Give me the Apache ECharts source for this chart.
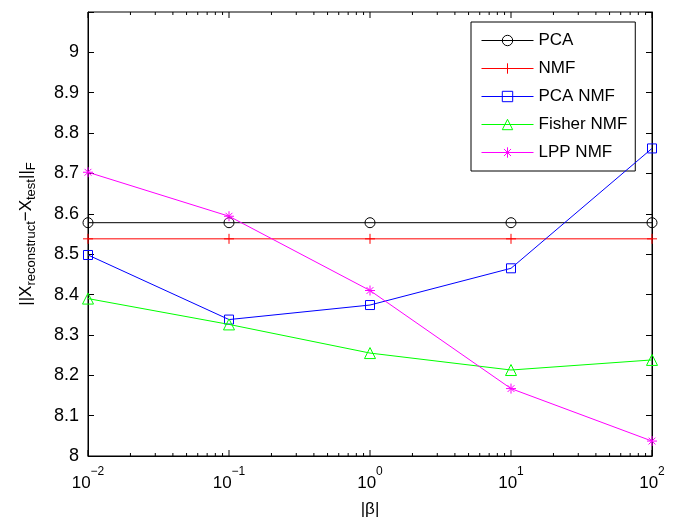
<!DOCTYPE html>
<html>
<head>
<meta charset="utf-8">
<script src="https://cdn.jsdelivr.net/npm/echarts@6/dist/echarts.min.js"></script>
<style>html,body{margin:0;padding:0;background:#fff}#c{width:676px;height:518px}</style>
</head>
<body>
<div id="c"></div>
<script>
// ---- data ----
const betas = [0.01, 0.1, 1, 10, 100];
const seriesNames = ['PCA', 'NMF', 'PCA NMF', 'Fisher NMF', 'LPP NMF'];
const pcaVals = [8.578, 8.578, 8.578, 8.578, 8.578];
const nmfVals = [8.538, 8.538, 8.538, 8.538, 8.538];
const pcaNmfVals = [8.498, 8.338, 8.374, 8.465, 8.762];
const fisherNmfVals = [8.390, 8.326, 8.255, 8.213, 8.238];
const lppNmfVals = [8.703, 8.594, 8.410, 8.167, 8.037];
const xMajorTicks = [0.01, 0.1, 1, 10, 100];
const xMinorTicks = [0.02,0.03,0.04,0.05,0.06,0.07,0.08,0.09,
                     0.2,0.3,0.4,0.5,0.6,0.7,0.8,0.9,
                     2,3,4,5,6,7,8,9,
                     20,30,40,50,60,70,80,90];
const yMin = 8, yMax = 9.1, yStep = 0.1, yLastLabel = 9;

const FONT = 'Liberation Sans, Arial, Helvetica, sans-serif';
const colors = ['#000000', '#ff0000', '#0000ff', '#00ff00', '#ff00ff'];
const symbols = [
  'circle',
  'path://M5,0L5,10M0,5L10,5',
  'rect',
  'triangle',
  'path://M5,0L5,10M0,5L10,5M1.6,1.6L8.4,8.4M1.6,8.4L8.4,1.6'
];
const sizes = [10, 10, 9, 11, 10];
const allVals = [pcaVals, nmfVals, pcaNmfVals, fisherNmfVals, lppNmfVals];

const chart = echarts.init(document.getElementById('c'), null, {renderer: 'canvas'});

const series = seriesNames.map((name, i) => ({
  name: name,
  type: 'line',
  xAxisIndex: 0,
  yAxisIndex: 0,
  data: betas.map((b, j) => [b, allVals[i][j]]),
  symbol: symbols[i],
  symbolSize: sizes[i],
  showSymbol: true,
  lineStyle: {color: colors[i], width: 1},
  itemStyle: {color: 'none', borderColor: colors[i], borderWidth: 1},
  emphasis: {disabled: true},
  animation: false,
  z: 2 + i
}));

// tick marks of the log axis (inside, bottom and mirrored top), placed through the axis scale
function tickSeries(vals, yv, len, dir) {
  return {
    type: 'scatter', name: 'tick', silent: true, clip: false, z: 20,
    xAxisIndex: 0, yAxisIndex: 0,
    data: vals.map(v => [v, yv]),
    symbol: 'rect', symbolSize: [1, len], symbolOffset: [0, dir * len / 2],
    itemStyle: {color: '#000', opacity: 1},
    emphasis: {disabled: true}, animation: false
  };
}
series.push(tickSeries(xMajorTicks, yMin, 6, -1));
series.push(tickSeries(xMinorTicks, yMin, 3, -1));
series.push(tickSeries(xMajorTicks, yMax, 6, 1));
series.push(tickSeries(xMinorTicks, yMax, 3, 1));

chart.setOption({
  animation: false,
  backgroundColor: '#fff',
  textStyle: {fontFamily: FONT},
  grid: {left: 88, right: 24, top: 12, bottom: 62, show: true, borderColor: '#000', borderWidth: 1,
         backgroundColor: 'transparent', containLabel: false, outerBoundsMode: 'none'},
  legend: {
    orient: 'vertical', left: 471, top: 22,
    padding: [10, 8, 10, 10],
    itemWidth: 52, itemHeight: 13, itemGap: 11,
    borderColor: '#000', borderWidth: 1, backgroundColor: '#fff',
    textStyle: {fontSize: 17, color: '#000', fontFamily: FONT},
    itemStyle: {borderWidth: 1},
    lineStyle: {width: 1},
    data: seriesNames.map((n, i) => ({
      name: n,
      itemStyle: {color: 'none', borderColor: colors[i], borderWidth: 1},
      lineStyle: {color: colors[i], width: 1}
    })),
    selectedMode: false
  },
  xAxis: [
    {
      type: 'log', min: 0.01, max: 100, logBase: 10, position: 'bottom',
      name: '|β|', nameLocation: 'middle', nameGap: 45,
      nameTextStyle: {fontSize: 17, color: '#000', fontFamily: FONT},
      axisLine: {show: true, onZero: false, lineStyle: {color: '#000', width: 1}},
      axisTick: {show: false},
      splitLine: {show: false},
      minorTick: {show: false},
      axisLabel: {
        margin: 10, color: '#000',
        formatter: function (v) {
          const e = Math.round(Math.log10(v));
          return '{b|10}{s|' + (e < 0 ? '\u2212' + (-e) : e) + '}';
        },
        rich: {
          b: {fontSize: 17, fontFamily: FONT, color: '#000', lineHeight: 26, verticalAlign: 'bottom'},
          s: {fontSize: 12, fontFamily: FONT, color: '#000', lineHeight: 10, verticalAlign: 'top'}
        }
      }
    }
  ],
  yAxis: [
    {
      type: 'value', min: yMin, max: yMax, interval: yStep, position: 'left',
      name: '{m|||X}{s|reconstruct}{m|\u2212X}{s|test}{m|||}{s|F}',
      nameLocation: 'middle', nameRotate: 90, nameGap: 50,
      nameTextStyle: {
        fontSize: 17, color: '#000', fontFamily: FONT,
        rich: {
          m: {fontSize: 17, fontFamily: FONT, color: '#000', lineHeight: 20, verticalAlign: 'top'},
          s: {fontSize: 13, fontFamily: FONT, color: '#000', lineHeight: 12, verticalAlign: 'bottom'}
        }
      },
      axisLine: {show: true, onZero: false, lineStyle: {color: '#000', width: 1}},
      axisTick: {show: true, inside: true, length: 6, lineStyle: {color: '#000'}},
      splitLine: {show: false},
      axisLabel: {
        margin: 9, color: '#000', fontSize: 18, fontFamily: FONT,
        formatter: function (v) {
          const r = Math.round(v * 10) / 10;
          return r > yLastLabel + 0.05 ? '' : String(r);
        }
      }
    },
    {
      type: 'value', min: yMin, max: yMax, interval: yStep, position: 'right',
      axisLine: {show: true, onZero: false, lineStyle: {color: '#000', width: 1}},
      axisTick: {show: true, inside: true, length: 6, lineStyle: {color: '#000'}},
      splitLine: {show: false},
      axisLabel: {show: false}
    }
  ],
  series: series
});
</script>
</body>
</html>
